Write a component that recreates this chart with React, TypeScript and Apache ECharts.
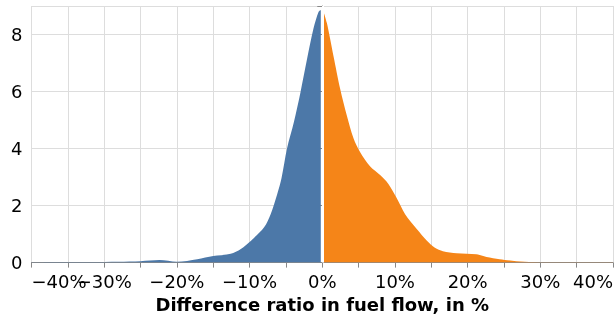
import React, { useEffect, useRef } from "react";
import * as echarts from "echarts";

// Density of the difference ratio (in %), negative side
const negX = [-40, -36, -32, -28, -25, -22.4, -20, -17.2, -15, -12.6, -11.2, -9.8, -8.0, -7.1, -6.2, -5.6, -4.85, -3.9, -3.0, -2.1, -1.2, -0.5, -0.2];
const negY = [0.01, 0.02, 0.02, 0.03, 0.05, 0.09, 0.03, 0.12, 0.23, 0.31, 0.48, 0.77, 1.24, 1.7, 2.4, 2.97, 4.0, 4.93, 5.97, 7.13, 8.22, 8.8, 8.86];

// Positive side
const posX = [0.15, 0.64, 1.55, 2.47, 3.38, 4.3, 5.2, 6.6, 7.96, 9.1, 10.2, 11.4, 13.0, 14.4, 15.5, 16.6, 18.5, 21.2, 22.6, 24.4, 26.7, 29, 33, 37, 40];
const posY = [8.82, 8.4, 7.24, 6.09, 5.16, 4.36, 3.88, 3.37, 3.07, 2.76, 2.28, 1.7, 1.18, 0.77, 0.52, 0.4, 0.33, 0.29, 0.2, 0.12, 0.05, 0.02, 0.01, 0.01, 0.01];

const xTicks = [-40, -30, -20, -10, 0, 10, 20, 30, 40];
const yTicks = [0, 2, 4, 6, 8];

const FONT = "DejaVu Sans";

export default function App() {
  const ref = useRef<HTMLDivElement>(null);
  useEffect(() => {
    if (!ref.current) return;
    const chart = echarts.init(ref.current, undefined, { renderer: "svg" });
    chart.setOption({
      animation: false,
      grid: { left: 31.5, right: 1, top: 6, bottom: 52.5 },
      xAxis: {
        type: "value",
        min: -40,
        max: 40,
        interval: 5,
        name: "Difference ratio in fuel flow, in %",
        nameLocation: "middle",
        nameGap: 30,
        nameTextStyle: { fontFamily: FONT, fontSize: 18, fontWeight: "bold", color: "#000" },
        axisLine: { show: true, onZero: false, lineStyle: { color: "#888", width: 1 } },
        axisTick: { show: true, length: 5, lineStyle: { color: "#888" } },
        splitLine: { show: true, lineStyle: { color: "#ddd", width: 1 } },
        axisLabel: {
          fontFamily: FONT,
          fontSize: 18,
          color: "#000",
          margin: 9.5,
          alignMinLabel: "left",
          alignMaxLabel: "right",
          formatter: (v: number) => {
            const r = Math.round(v);
            if (!xTicks.includes(r)) return "";
            return (r < 0 ? "\u2212" + Math.abs(r) : String(r)) + "%";
          },
        },
      },
      yAxis: {
        type: "value",
        min: 0,
        max: 9,
        interval: 2,
        axisLine: { show: true, lineStyle: { color: "#888", width: 1 } },
        axisTick: { show: true, length: 5, lineStyle: { color: "#888" } },
        splitLine: { show: true, lineStyle: { color: "#ddd", width: 1 } },
        axisLabel: {
          fontFamily: FONT,
          fontSize: 18,
          color: "#000",
          margin: 9,
          formatter: (v: number) => (yTicks.includes(v) ? String(v) : ""),
        },
      },
      series: [
        {
          type: "line",
          data: negX.map((x, i) => [x, negY[i]]),
          smooth: 0.3,
          symbol: "none",
          lineStyle: { width: 0 },
          areaStyle: { color: "#4c78a8", opacity: 1 },
          z: 2,
        },
        {
          type: "line",
          data: posX.map((x, i) => [x, posY[i]]),
          smooth: 0.3,
          symbol: "none",
          lineStyle: { width: 0 },
          areaStyle: { color: "#f58518", opacity: 1 },
          z: 2,
          markLine: {
            silent: true,
            symbol: "none",
            label: { show: false },
            lineStyle: { color: "#fff", width: 2, type: "solid" },
            data: [{ xAxis: 0 }],
          },
        },
      ],
    });
    return () => chart.dispose();
  }, []);
  return (
    <div
      ref={ref}
      style={{ position: "fixed", left: 0, top: 0, width: 616, height: 318 }}
    />
  );
}
